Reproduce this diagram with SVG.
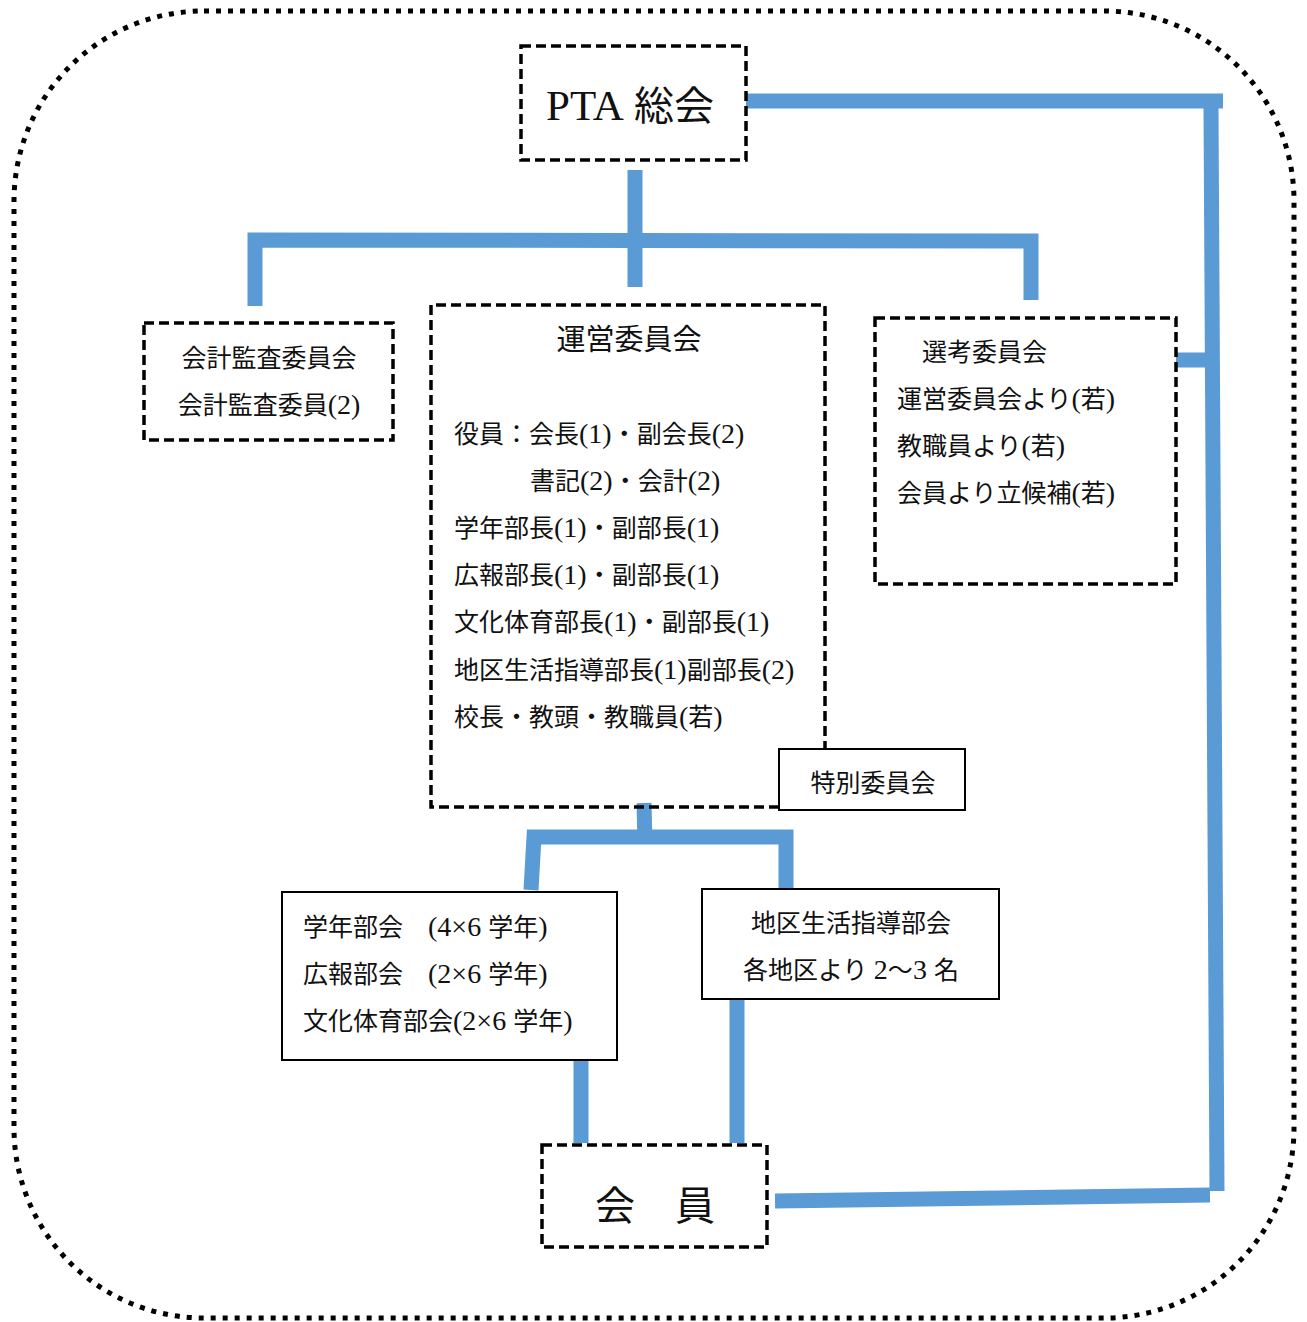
<svg xmlns="http://www.w3.org/2000/svg" width="1307" height="1322" viewBox="0 0 1307 1322">
<style>
.dash{fill:none;stroke:#000;stroke-width:3.5;stroke-dasharray:10 5}
.solid{fill:#fff;stroke:#000;stroke-width:2}
.t{font-family:"Liberation Serif","Noto Sans CJK JP",serif;fill:#111;font-size:25px}
.n{font-size:28px}
.c{text-anchor:middle}
.conn line,.conn polyline{stroke:#5B9BD5;stroke-width:15;fill:none;stroke-linejoin:miter;stroke-linecap:butt}
</style>
<rect x="0" y="0" width="1307" height="1322" fill="#fff"/>
<rect id="frame" x="14" y="11" width="1280" height="1307" rx="190" ry="190" fill="none" stroke="#000" stroke-width="5" stroke-dasharray="5 7"/>
<g class="conn" id="connectors">
<line x1="746" y1="101" x2="1223" y2="101"/>
<line x1="1211" y1="108" x2="1217" y2="1191"/>
<line x1="1176" y1="360" x2="1212" y2="360"/>
<line x1="775" y1="1201" x2="1210" y2="1195"/>
<line x1="635" y1="170" x2="635" y2="287"/>
<polyline points="255,306 255,240 1031,241 1031,300"/>
<line x1="644" y1="803" x2="645" y2="843"/>
<polyline points="531,890 534,837 786,837 786,890"/>
<line x1="581" y1="1060" x2="581" y2="1143"/>
<line x1="737" y1="999" x2="737" y2="1143"/>
</g>
<g id="pta">
<rect class="dash" x="521" y="46" width="225" height="114"/>
<text class="t c" x="630" y="120" style="font-size:40px"><tspan style="font-size:43px">PTA</tspan> 総会</text>
</g>
<g id="audit">
<rect class="dash" x="144" y="323" width="249" height="117"/>
<text class="t c" x="269" y="367">会計監査委員会</text>
<text class="t c" x="269" y="414">会計監査委員<tspan class="n">(2)</tspan></text>
</g>
<g id="steering">
<path class="dash" d="M779,807 H431 V305 H825 V748"/>
<text class="t c" x="629" y="350" style="font-size:29px">運営委員会</text>
<text class="t" x="454" y="443">役員：会長<tspan class="n">(1)</tspan>・副会長<tspan class="n">(2)</tspan></text>
<text class="t" x="530" y="490">書記<tspan class="n">(2)</tspan>・会計<tspan class="n">(2)</tspan></text>
<text class="t" x="454" y="537">学年部長<tspan class="n">(1)</tspan>・副部長<tspan class="n">(1)</tspan></text>
<text class="t" x="454" y="584">広報部長<tspan class="n">(1)</tspan>・副部長<tspan class="n">(1)</tspan></text>
<text class="t" x="454" y="631">文化体育部長<tspan class="n">(1)</tspan>・副部長<tspan class="n">(1)</tspan></text>
<text class="t" x="454" y="679">地区生活指導部長<tspan class="n">(1)</tspan>副部長<tspan class="n">(2)</tspan></text>
<text class="t" x="454" y="726">校長・教頭・教職員<tspan class="n">(</tspan>若<tspan class="n">)</tspan></text>
</g>
<g id="special">
<rect class="solid" x="779" y="749" width="186" height="61"/>
<text class="t c" x="873" y="792">特別委員会</text>
</g>
<g id="selection">
<rect class="dash" x="875" y="318" width="301" height="266"/>
<text class="t" x="922" y="361">選考委員会</text>
<text class="t" x="897" y="408">運営委員会より<tspan class="n">(</tspan>若<tspan class="n">)</tspan></text>
<text class="t" x="897" y="455">教職員より<tspan class="n">(</tspan>若<tspan class="n">)</tspan></text>
<text class="t" x="897" y="502">会員より立候補<tspan class="n">(</tspan>若<tspan class="n">)</tspan></text>
</g>
<g id="divisions">
<rect class="solid" x="282" y="892" width="335" height="168"/>
<text class="t" x="303" y="936">学年部会　<tspan class="n">(4×6 </tspan>学年<tspan class="n">)</tspan></text>
<text class="t" x="303" y="983">広報部会　<tspan class="n">(2×6 </tspan>学年<tspan class="n">)</tspan></text>
<text class="t" x="303" y="1030">文化体育部会<tspan class="n">(2×6 </tspan>学年<tspan class="n">)</tspan></text>
</g>
<g id="district">
<rect class="solid" x="702" y="889" width="297" height="110"/>
<text class="t c" x="851" y="932">地区生活指導部会</text>
<text class="t c" x="851" y="979">各地区より <tspan class="n">2</tspan>～<tspan class="n">3 </tspan>名</text>
</g>
<g id="members">
<rect class="dash" x="542" y="1145" width="225" height="102"/>
<text class="t c" x="655" y="1220" style="font-size:40px">会　員</text>
</g>
</svg>
